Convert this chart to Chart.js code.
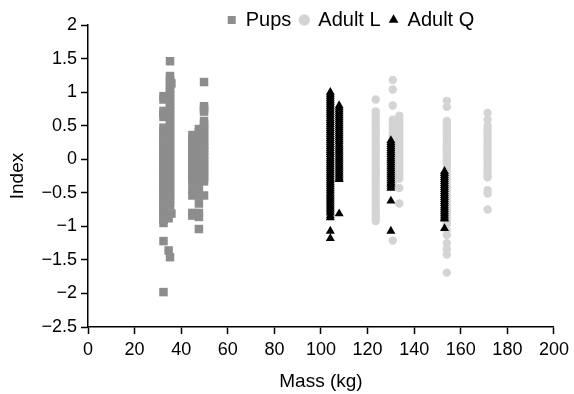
<!DOCTYPE html>
<html>
<head>
<meta charset="utf-8">
<script src="https://cdn.jsdelivr.net/npm/chart.js@4.4.1/dist/chart.umd.min.js"></script>
<style>
  html, body { margin: 0; padding: 0; background: #fff; }
</style>
</head>
<body>
<canvas id="massChart" width="574" height="394"></canvas>
<script>
// columns of points: one mass per column, the index values read down each column
const pupsMass = [32.4, 34.6, 35.2, 35.8, 44.8, 47.6, 49.8];
const pupsIndex = [
    [0.94, 0.89, 0.72, 0.68, 0.63, 0.47, 0.42, 0.37, 0.33, 0.28, 0.23, 0.19, 0.14, 0.09, 0.04, 0.00, -0.05, -0.10, -0.14, -0.19, -0.24, -0.29, -0.33, -0.38, -0.43, -0.47, -0.52, -0.57, -0.62, -0.66, -0.71, -0.76, -0.80, -0.85, -0.90, -0.95, -1.22, -1.98],
    [0.40, 0.22, 0.05, -0.12, -0.30, -0.48, -0.66, -0.88, -1.36],
    [1.46, 1.24, 1.20, 1.15, 1.10, 1.05, 1.00, 0.95, 0.90, 0.86, 0.81, 0.76, 0.71, 0.66, 0.62, 0.57, 0.52, 0.47, 0.42, 0.37, 0.33, 0.28, 0.23, 0.18, 0.13, 0.08, 0.04, -0.01, -0.06, -0.11, -0.16, -0.21, -0.25, -0.30, -0.35, -0.40, -0.45, -0.50, -0.54, -0.59, -0.64, -0.69, -1.46],
    [1.13, -0.81],
    [0.36, 0.31, 0.26, 0.21, 0.16, 0.11, 0.06, 0.01, -0.04, -0.09, -0.14, -0.19, -0.24, -0.29, -0.33, -0.45, -0.54, -0.80, -0.84],
    [0.45, 0.40, 0.35, 0.30, 0.25, 0.20, 0.15, 0.10, 0.05, 0.00, -0.05, -0.10, -0.15, -0.20, -0.25, -0.30, -0.34, -0.43, -0.54, -0.66, -0.80, -0.86, -1.04],
    [1.15, 0.79, 0.75, 0.71, 0.57, 0.52, 0.47, 0.42, 0.37, 0.32, 0.27, 0.22, 0.17, 0.12, 0.07, 0.02, -0.03, -0.08, -0.13, -0.18, -0.23, -0.28, -0.33, -0.54]
];

const adultLMass = [123.5, 130.8, 133.6, 154.0, 171.5];
const adultLIndex = [
    [0.89, 0.71, 0.66, 0.61, 0.56, 0.51, 0.46, 0.41, 0.36, 0.31, 0.26, 0.21, 0.16, 0.11, 0.06, 0.01, -0.04, -0.09, -0.14, -0.19, -0.24, -0.29, -0.34, -0.39, -0.44, -0.49, -0.54, -0.59, -0.64, -0.69, -0.74, -0.79, -0.84, -0.88, -0.92],
    [1.18, 1.04, 0.80, 0.59, 0.54, 0.49, 0.44, 0.39, 0.34, 0.29, 0.24, 0.19, 0.14, 0.09, 0.04, -0.01, -0.06, -0.11, -0.16, -0.21, -0.26, -0.31, -0.36, -1.21],
    [0.65, 0.60, 0.55, 0.50, 0.45, 0.40, 0.35, 0.30, 0.25, 0.20, 0.15, 0.10, 0.05, 0.00, -0.05, -0.10, -0.15, -0.20, -0.25, -0.29, -0.43, -0.66],
    [0.87, 0.78, 0.57, 0.52, 0.47, 0.42, 0.37, 0.32, 0.27, 0.22, 0.17, 0.12, 0.07, 0.02, -0.03, -0.08, -0.13, -0.18, -0.23, -0.28, -0.33, -0.38, -0.43, -0.48, -0.53, -0.58, -0.63, -0.68, -0.73, -0.78, -0.83, -0.88, -0.93, -0.97, -1.06, -1.13, -1.25, -1.34, -1.42, -1.69],
    [0.69, 0.59, 0.50, 0.45, 0.40, 0.35, 0.30, 0.25, 0.20, 0.15, 0.10, 0.05, 0.00, -0.05, -0.10, -0.15, -0.20, -0.24, -0.27, -0.46, -0.51, -0.75]
];

const adultQMass = [104.0, 107.8, 130.0, 153.0];
const adultQIndex = [
    [1.00, 0.97, 0.94, 0.91, 0.88, 0.85, 0.82, 0.79, 0.76, 0.73, 0.70, 0.67, 0.64, 0.61, 0.58, 0.55, 0.52, 0.49, 0.46, 0.43, 0.40, 0.37, 0.34, 0.31, 0.28, 0.25, 0.22, 0.19, 0.16, 0.13, 0.10, 0.07, 0.04, 0.01, -0.02, -0.05, -0.08, -0.11, -0.14, -0.17, -0.20, -0.23, -0.26, -0.29, -0.32, -0.35, -0.38, -0.41, -0.44, -0.47, -0.50, -0.53, -0.56, -0.59, -0.62, -0.65, -0.68, -0.71, -0.74, -0.77, -0.80, -0.84, -0.87, -1.07, -1.18],
    [0.80, 0.77, 0.74, 0.71, 0.68, 0.65, 0.62, 0.59, 0.56, 0.53, 0.50, 0.47, 0.44, 0.41, 0.38, 0.35, 0.32, 0.29, 0.26, 0.23, 0.20, 0.17, 0.14, 0.11, 0.08, 0.05, 0.02, -0.01, -0.04, -0.07, -0.10, -0.13, -0.16, -0.19, -0.22, -0.25, -0.28, -0.30, -0.81],
    [0.28, 0.25, 0.22, 0.19, 0.16, 0.13, 0.10, 0.07, 0.04, 0.01, -0.02, -0.05, -0.08, -0.11, -0.14, -0.17, -0.20, -0.23, -0.26, -0.29, -0.32, -0.35, -0.37, -0.40, -0.43, -0.62, -1.07],
    [-0.18, -0.21, -0.24, -0.27, -0.30, -0.33, -0.36, -0.39, -0.42, -0.45, -0.48, -0.51, -0.54, -0.57, -0.60, -0.63, -0.66, -0.69, -0.72, -0.75, -0.78, -0.81, -0.84, -0.87, -0.89, -1.03]
];

// axis ticks
const xTickValues = [0, 20, 40, 60, 80, 100, 120, 140, 160, 180, 200];
const xTickLabels = ['0', '20', '40', '60', '80', '100', '120', '140', '160', '180', '200'];
const yTickValues = [-2.5, -2, -1.5, -1, -0.5, 0, 0.5, 1, 1.5, 2];
const yTickLabels = ['\u22122.5', '\u22122', '\u22121.5', '\u22121', '\u22120.5', '0', '0.5', '1', '1.5', '2'];

const FONT = 'Liberation Sans, Arial, Helvetica, sans-serif';

// turn mass columns into {x, y} points
function toPoints(masses, values) {
    const pts = [];
    masses.forEach((m, i) => {
        values[i].forEach(v => pts.push({ x: m, y: v }));
    });
    return pts;
}

// the legend sits right of centre and hangs a bit over the plot top in the original
const legendShift = {
    id: 'legendShift',
    afterLayout(chart, args, opts) {
        const lg = chart.legend;
        lg.left += opts.dx;
        lg.right += opts.dx;
        lg.bottom += opts.extraHeight;
        lg.height += opts.extraHeight;
    }
};

const axisGrid = {
    drawOnChartArea: false,
    drawTicks: true,
    tickLength: 7,
    tickColor: '#000',
    tickWidth: 1.5
};

const ctx = document.getElementById('massChart').getContext('2d');
const massChart = new Chart(ctx, {
    type: 'scatter',
    data: {
        datasets: [{
            label: 'Pups',
            data: toPoints(pupsMass, pupsIndex),
            pointStyle: 'rect',
            pointRadius: 6,
            pointHoverRadius: 6,
            backgroundColor: '#8d8d8d',
            borderColor: '#8d8d8d',
            borderWidth: 0,
            order: 2
        }, {
            label: 'Adult L',
            data: toPoints(adultLMass, adultLIndex),
            pointStyle: 'circle',
            pointRadius: 4.2,
            pointHoverRadius: 4.2,
            backgroundColor: '#d4d4d4',
            borderColor: '#d4d4d4',
            borderWidth: 0,
            order: 1
        }, {
            label: 'Adult Q',
            data: toPoints(adultQMass, adultQIndex),
            pointStyle: 'triangle',
            pointRadius: 5.2,
            pointHoverRadius: 5.2,
            backgroundColor: '#000',
            borderColor: '#000',
            borderWidth: 0,
            order: 0
        }]
    },
    plugins: [legendShift],
    options: {
        responsive: false,
        animation: false,
        layout: { padding: { top: 1, right: 6, bottom: 0, left: 0 } },
        plugins: {
            tooltip: { enabled: false },
            legendShift: { dx: 67, extraHeight: 14 },
            legend: {
                position: 'top',
                align: 'center',
                maxHeight: 24,
                labels: {
                    usePointStyle: true,
                    boxWidth: 8,
                    boxHeight: 8,
                    padding: 9,
                    color: '#000',
                    font: { family: FONT, size: 20 },
                    sort: (a, b) => a.datasetIndex - b.datasetIndex
                }
            }
        },
        scales: {
            x: {
                type: 'linear',
                min: 0,
                max: 200,
                afterFit: scale => { scale.height = 67; },
                afterBuildTicks: scale => {
                    scale.ticks = xTickValues.map(v => ({ value: v }));
                },
                ticks: {
                    color: '#000',
                    padding: 5,
                    font: { family: FONT, size: 18 },
                    callback: value => xTickLabels[xTickValues.indexOf(value)]
                },
                grid: axisGrid,
                border: { color: '#000', width: 1.5 },
                title: {
                    display: true,
                    text: 'Mass (kg)',
                    color: '#000',
                    font: { family: FONT, size: 19 },
                    padding: { top: 12, bottom: 1 }
                }
            },
            y: {
                type: 'linear',
                min: -2.5,
                max: 2,
                afterFit: scale => { scale.width = 88; },
                afterBuildTicks: scale => {
                    scale.ticks = yTickValues.map(v => ({ value: v }));
                },
                ticks: {
                    color: '#000',
                    padding: 4,
                    font: { family: FONT, size: 18 },
                    callback: value => yTickLabels[yTickValues.indexOf(value)]
                },
                grid: axisGrid,
                border: { color: '#000', width: 1.5 },
                title: {
                    display: true,
                    text: 'Index',
                    color: '#000',
                    font: { family: FONT, size: 19 },
                    padding: { top: 6 }
                }
            }
        }
    }
});
</script>
</body>
</html>
